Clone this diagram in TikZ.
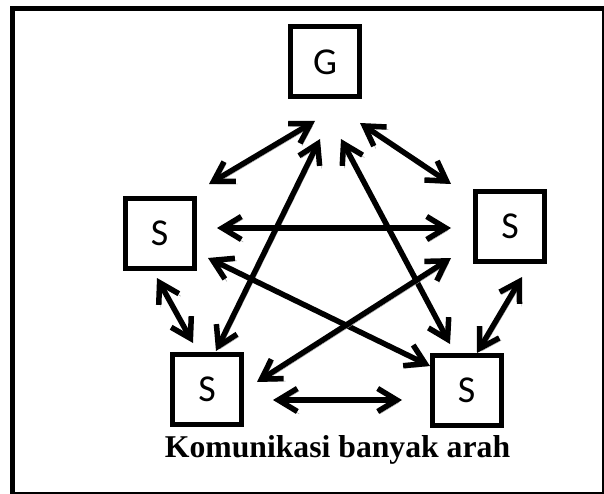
\documentclass[tikz,border=0pt]{standalone}
\usepackage{fontspec}
\setmainfont{Liberation Serif}
\newfontfamily\boxfont{Carlito}
\usetikzlibrary{arrows.meta}
\tikzset{
  box/.style={draw=black, line width=5pt, minimum width=69pt, minimum height=70pt, inner sep=0pt, font=\boxfont\fontsize{38pt}{40pt}\selectfont},
  dbl/.style={line width=5.5pt, {Straight Barb[length=19pt,width=23pt]}-{Straight Barb[length=19pt,width=23pt]},
    preaction={draw=black!40, transform canvas={shift={(2pt,-2.5pt)}}}},
  caption/.style={font=\bfseries\fontsize{31.7pt}{34pt}\selectfont, anchor=base, inner sep=0pt}
}
\begin{document}
\begin{tikzpicture}[x=1pt,y=-1pt]
\useasboundingbox (0,0) rectangle (604,494);
% frame
\draw[line width=5pt] (12.5,494) -- (12.5,8.5) -- (604,8.5);
\draw[line width=2pt] (12.5,493) -- (603,493) -- (603,8.5);
% boxes
\node[box] (G) at (325,62) {G};
\node[box] (L) at (159.5,233.5) {S};
\node[box] (R) at (510,226.5) {S};
\node[box] (BL) at (207,389.5) {S};
\node[box] (BR) at (466.5,390.5) {S};
\node[caption] (cap) at (337.5,457) {Komunikasi banyak arah};
% arrow end points
\coordinate (gl1) at (315,121); \coordinate (gl2) at (209,184);
\coordinate (gr1) at (360,123); \coordinate (gr2) at (451,184);
\coordinate (gb1) at (320,139); \coordinate (gb2) at (216,351);
\coordinate (gc1) at (341,139); \coordinate (gc2) at (450,344);
\coordinate (lr1) at (217,228); \coordinate (lr2) at (451,228);
\coordinate (lc1) at (208,258); \coordinate (lc2) at (430,366);
\coordinate (rb1) at (451,258); \coordinate (rb2) at (257,382);
\coordinate (lb1) at (157,278); \coordinate (lb2) at (193,343);
\coordinate (rc1) at (522,277); \coordinate (rc2) at (477,353);
\coordinate (bc1) at (273,400); \coordinate (bc2) at (402,400);
% arrows
\draw[dbl] (gl1) -- (gl2);
\draw[dbl] (gr1) -- (gr2);
\draw[dbl] (gb1) -- (gb2);
\draw[dbl] (gc1) -- (gc2);
\draw[dbl] (lr1) -- (lr2);
\draw[dbl] (lc1) -- (lc2);
\draw[dbl] (rb1) -- (rb2);
\draw[dbl] (lb1) -- (lb2);
\draw[dbl] (rc1) -- (rc2);
\draw[dbl] (bc1) -- (bc2);
\end{tikzpicture}
\end{document}
